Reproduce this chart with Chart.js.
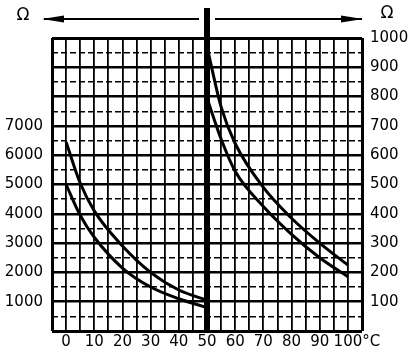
<!DOCTYPE html>
<html>
<head>
<meta charset="utf-8">
<script src="https://cdn.jsdelivr.net/npm/chart.js@4.4.0/dist/chart.umd.min.js"></script>
<style>
  html, body { margin: 0; padding: 0; background: #fff; }
  #wrap { width: 409px; height: 354px; position: relative; }
</style>
</head>
<body>
<div id="wrap"><canvas id="chart"></canvas></div>
<script>
// temperatures (°C)
const tempLeft  = [0, 5, 10, 20, 30, 40, 50];
const tempRight = [50, 55, 60, 70, 80, 90, 100];

// left scale (Ω, 0..10000) – curves from 0 to 50 °C
const leftUpper = [6450, 5050, 4100, 2900, 2000, 1400, 1050];
const leftLower = [5000, 3950, 3200, 2150, 1500, 1100, 800];

// right scale (Ω, 0..1000) – curves from 50 to 100 °C
const rightUpper = [970, 765, 640, 490, 385, 300, 225];
const rightLower = [795, 655, 545, 425, 330, 250, 185];

// tick labels
const xLabels      = [0, 10, 20, 30, 40, 50, 60, 70, 80, 90, 100];
const leftLabels   = [1000, 2000, 3000, 4000, 5000, 6000, 7000];
const rightLabels  = [100, 200, 300, 400, 500, 600, 700, 800, 900, 1000];
const unitLabel = 'Ω';
const tempUnit  = '°C';

const FONT = { family: "'DejaVu Sans', sans-serif", size: 15, lineHeight: 1.2 };

const pts = (xs, ys) => xs.map((x, i) => ({ x, y: ys[i] }));

const curve = (data, axis) => ({
  data,
  yAxisID: axis,
  borderColor: '#000',
  borderWidth: 3,
  pointRadius: 0,
  cubicInterpolationMode: 'monotone',
  fill: false
});

// thick 50 °C divider, arrows and Ω captions
const decorations = {
  id: 'decorations',
  afterDraw(chart) {
    const { ctx, chartArea: area, scales } = chart;
    const xs = scales.x;
    const mid = xs.getPixelForValue(50);
    ctx.save();
    ctx.fillStyle = '#000';
    ctx.strokeStyle = '#000';

    // divider
    ctx.lineWidth = 6;
    ctx.beginPath();
    ctx.moveTo(mid, 8);
    ctx.lineTo(mid, area.bottom);
    ctx.stroke();

    // arrows
    const ay = 19;
    ctx.lineWidth = 2;
    ctx.beginPath();
    ctx.moveTo(mid - 8, ay); ctx.lineTo(44, ay);
    ctx.moveTo(mid + 8, ay); ctx.lineTo(area.right, ay);
    ctx.stroke();
    ctx.beginPath();
    ctx.moveTo(42, ay); ctx.lineTo(64, ay - 3.5); ctx.lineTo(64, ay + 3.5); ctx.closePath();
    ctx.moveTo(area.right + 1, ay); ctx.lineTo(area.right - 21, ay - 3.5); ctx.lineTo(area.right - 21, ay + 3.5); ctx.closePath();
    ctx.fill();

    // Ω captions
    ctx.font = "17px 'DejaVu Sans', sans-serif";
    ctx.textAlign = 'center';
    ctx.textBaseline = 'middle';
    ctx.fillText(unitLabel, 23, 16);
    ctx.fillText(unitLabel, 387, 14);

    // °C after the 100 label
    ctx.font = "15px 'DejaVu Sans', sans-serif";
    const x100 = xs.getPixelForValue(100) + ctx.measureText('100').width / 2;
    ctx.textAlign = 'left';
    ctx.fillText(tempUnit, x100, xs.top + xs.options.ticks.padding + FONT.size * FONT.lineHeight / 2);
    ctx.restore();
  }
};

new Chart(document.getElementById('chart'), {
  type: 'line',
  data: {
    datasets: [
      curve(pts(tempLeft, leftUpper), 'y'),
      curve(pts(tempLeft, leftLower), 'y'),
      curve(pts(tempRight, rightUpper), 'y2'),
      curve(pts(tempRight, rightLower), 'y2')
    ]
  },
  options: {
    responsive: true,
    maintainAspectRatio: false,
    animation: false,
    layout: { padding: { top: 38, left: 0, right: 0, bottom: 0 } },
    plugins: { legend: { display: false }, tooltip: { enabled: false } },
    scales: {
      x: {
        type: 'linear',
        min: -5,
        max: 105,
        afterFit: s => { s.height = 23; },
        afterBuildTicks: s => {
          s.ticks = [];
          for (let v = -5; v <= 105; v += 5) s.ticks.push({ value: v });
        },
        ticks: {
          autoSkip: false,
          maxRotation: 0,
          padding: 2,
          color: '#000',
          font: FONT,
          callback: v => xLabels.includes(v) ? String(v) : ''
        },
        grid: {
          drawTicks: false,
          color: '#000',
          lineWidth: c => (c.tick && (c.tick.value === -5 || c.tick.value === 105)) ? 3 : 1.8
        },
        border: { display: false }
      },
      y: {
        position: 'left',
        min: 0,
        max: 10000,
        afterFit: s => { s.width = 52; },
        afterBuildTicks: s => {
          s.ticks = [];
          for (let v = 0; v <= 10000; v += 500) s.ticks.push({ value: v });
        },
        ticks: {
          autoSkip: false,
          padding: 9,
          color: '#000',
          font: FONT,
          callback: v => leftLabels.includes(v) ? String(v) : ''
        },
        grid: {
          drawTicks: false,
          color: '#000',
          lineWidth: c => {
            if (!c.tick) return 2;
            const v = c.tick.value;
            if (v === 0 || v === 10000) return 3;
            return v % 1000 === 0 ? 2.5 : 1.5;
          }
        },
        border: {
          display: false,
          dash: c => (c.tick && c.tick.value % 1000 !== 0) ? [6, 3] : []
        }
      },
      y2: {
        position: 'right',
        min: 0,
        max: 1000,
        afterFit: s => { s.width = 47; },
        afterBuildTicks: s => {
          s.ticks = [];
          for (let v = 0; v <= 1000; v += 100) s.ticks.push({ value: v });
        },
        ticks: {
          autoSkip: false,
          padding: 8,
          color: '#000',
          font: FONT,
          callback: v => rightLabels.includes(v) ? String(v) : ''
        },
        grid: { display: false, drawTicks: false },
        border: { display: false }
      }
    }
  },
  plugins: [decorations]
});
</script>
</body>
</html>
